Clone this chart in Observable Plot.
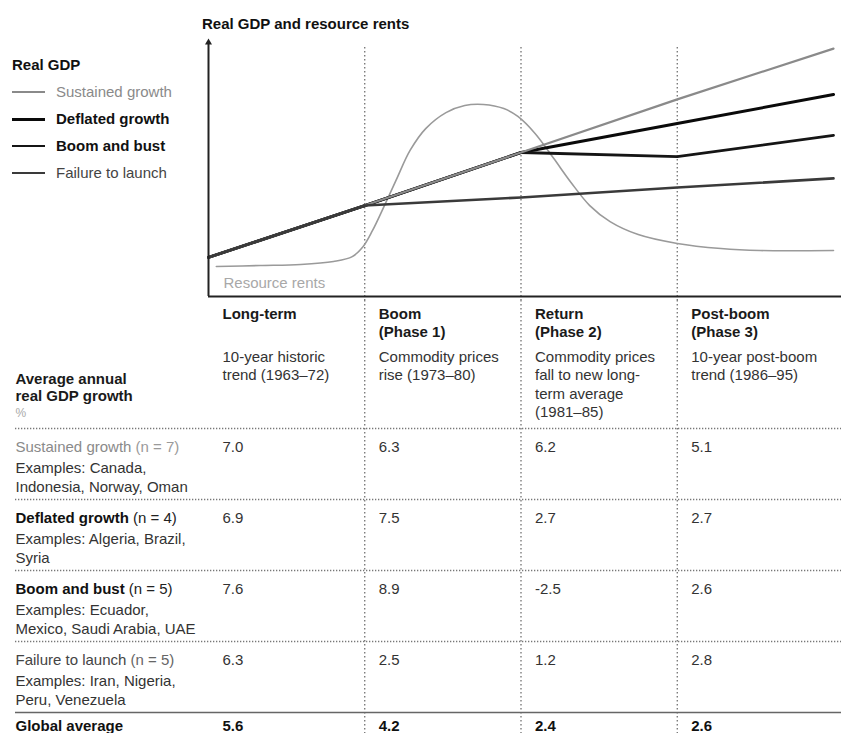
<!DOCTYPE html>
<html>
<head>
<meta charset="utf-8">
<script src="https://cdn.jsdelivr.net/npm/d3@7"></script>
<script src="https://cdn.jsdelivr.net/npm/@observablehq/plot@0.6"></script>
<style>
  body { margin: 0; background: #fff; font-family: "Liberation Sans", Arial, sans-serif; }
  #wrap { position: relative; width: 841px; height: 733px; overflow: hidden; background: #fff; }
  #title { position: absolute; left: 202px; top: 15px; font-weight: bold; font-size: 15px; line-height: 18px; color: #111; }
  .lg { position: absolute; left: 12px; font-size: 15px; line-height: 18px; white-space: nowrap; }
  .lg .sw { display: inline-block; width: 33px; vertical-align: middle; margin-right: 11px; position: relative; top: -1px; }
  #top, #table { position: absolute; left: 0; }
  #top { top: 0; }
  #table { top: 300px; }
  svg { overflow: visible; }
</style>
</head>
<body>
<div id="wrap">
  <div id="top"></div>
  <div id="table"></div>
  <div id="title">Real GDP and resource rents</div>
</div>
<script>
// ---------------- data ----------------
const chartTitle = "Real GDP and resource rents";
const legendTitle = "Real GDP";
const phases = ["Long-term", "Boom", "Return", "Post-boom"];
const phaseHeads = ["Long-term", "Boom\n(Phase 1)", "Return\n(Phase 2)", "Post-boom\n(Phase 3)"];
const phaseNotes = [
  "10-year historic\ntrend (1963–72)",
  "Commodity prices\nrise (1973–80)",
  "Commodity prices\nfall to new long-\nterm average\n(1981–85)",
  "10-year post-boom\ntrend (1986–95)"
];
const groups = ["Sustained growth", "Deflated growth", "Boom and bust", "Failure to launch"];
const groupCounts = [7, 4, 5, 5];
const groupExamples = [
  "Examples: Canada,\nIndonesia, Norway, Oman",
  "Examples: Algeria, Brazil,\nSyria",
  "Examples: Ecuador,\nMexico, Saudi Arabia, UAE",
  "Examples: Iran, Nigeria,\nPeru, Venezuela"
];
const sustainedGrowth = [7.0, 6.3, 6.2, 5.1];
const deflatedGrowth  = [6.9, 7.5, 2.7, 2.7];
const boomBustGrowth  = [7.6, 8.9, -2.5, 2.6];
const failureGrowth   = [6.3, 2.5, 1.2, 2.8];
const globalAverage   = [5.6, 4.2, 2.4, 2.6];

// stylised GDP paths at the phase boundaries (index level)
const phaseBoundaries = [0, 1, 2, 3, 4];
const sustainedPath = [15.4, 35.8, 56.7, 77.6, 97.6];
const deflatedPath  = [15.4, 35.8, 56.7, 68.1, 79.5];
const boomBustPath  = [15.4, 35.8, 56.7, 55.1, 63.4];
const failurePath   = [15.4, 35.8, 39.0, 42.9, 46.5];

// stylised resource rents curve
const rentsPhase = [0.05, 0.33, 0.59, 0.80, 0.92, 0.99, 1.05, 1.12, 1.20, 1.29, 1.39, 1.52, 1.64, 1.76, 1.89, 1.98, 2.09, 2.21, 2.32, 2.44, 2.57, 2.75, 3.00, 3.28, 3.53, 4.00];
const rentsLevel = [11.8, 12.2, 12.6, 13.8, 15.7, 19.7, 26.0, 35.0, 45.7, 57.5, 66.1, 72.4, 75.2, 75.6, 74.0, 70.9, 64.2, 54.3, 44.9, 35.8, 29.5, 24.4, 20.9, 18.9, 18.1, 18.1];
const rentsLabel = "Resource rents";

// ---------------- styles ----------------
const FONT = '"Liberation Sans", Arial, sans-serif';
const seriesStyle = {
  "Sustained growth":  {path: sustainedPath, stroke: "#8a8a8a", width: 2.2, text: "#8a8a8a", weight: "normal"},
  "Deflated growth":   {path: deflatedPath,  stroke: "#0a0a0a", width: 3.0, text: "#111",    weight: "bold"},
  "Boom and bust":     {path: boomBustPath,  stroke: "#151515", width: 2.8, text: "#111",    weight: "bold"},
  "Failure to launch": {path: failurePath,   stroke: "#3a3a3a", width: 2.6, text: "#444",    weight: "normal"}
};
const drawOrder = ["Deflated growth", "Boom and bust", "Sustained growth", "Failure to launch"];

const gdp = groups.flatMap(g => seriesStyle[g].path.map((v, i) => ({series: g, x: phaseBoundaries[i], y: v})));
const rents = rentsPhase.map((x, i) => ({x, y: rentsLevel[i]}));

// ---------------- legend (html) ----------------
const wrap = document.getElementById("wrap");
document.getElementById("title").textContent = chartTitle;
{
  const h = document.createElement("div");
  h.className = "lg"; h.style.top = "56px"; h.style.fontWeight = "bold"; h.style.color = "#111";
  h.textContent = legendTitle;
  wrap.appendChild(h);
  const centers = [92, 119, 146, 173];
  groups.forEach((g, i) => {
    const s = seriesStyle[g];
    const d = document.createElement("div");
    d.className = "lg"; d.style.top = (centers[i] - 9) + "px";
    d.style.color = s.text; d.style.fontWeight = s.weight;
    const sw = document.createElement("span");
    sw.className = "sw"; sw.style.borderTop = `${s.width}px solid ${s.stroke}`;
    d.appendChild(sw);
    d.appendChild(document.createTextNode(g));
    wrap.appendChild(d);
  });
}

// ---------------- top chart ----------------
const topPlot = Plot.plot({
  width: 841, height: 300,
  marginLeft: 208, marginRight: 8, marginTop: 42, marginBottom: 4,
  style: {fontFamily: FONT, background: "transparent"},
  x: {domain: [0, 4], axis: null},
  y: {domain: [0, 100], axis: null},
  marks: [
    Plot.ruleX([1, 2, 3], {stroke: "#666", strokeWidth: 1.2, strokeDasharray: "1.5,2.5", insetTop: 5, insetBottom: -4}),
    Plot.line(rents, {x: "x", y: "y", curve: "catmull-rom", stroke: "#9a9a9a", strokeWidth: 1.6}),
    ...drawOrder.map(g => Plot.line(gdp.filter(d => d.series === g), {
      x: "x", y: "y", stroke: seriesStyle[g].stroke, strokeWidth: seriesStyle[g].width, strokeLinejoin: "round"
    })),
    Plot.ruleX([0], {stroke: "#222", strokeWidth: 2}),
    Plot.ruleY([0], {stroke: "#222", strokeWidth: 2, insetRight: -8}),
    Plot.dot([{x: 0, y: 100}], {x: "x", y: "y", symbol: "triangle", r: 2.6, fill: "#222", stroke: "none"}),
    Plot.text([rentsLabel], {text: d => d, frameAnchor: "bottom-left", lineAnchor: "middle", dx: 15, dy: -13, fill: "#a8a8a8", fontSize: 15})
  ]
});
document.getElementById("top").appendChild(topPlot);

// ---------------- table ----------------
const cv = document.createElement("canvas").getContext("2d");
function measure(str, weight) { cv.font = `${weight} 15px "Liberation Sans", Arial, sans-serif`; return cv.measureText(str).width; }

const pitch = 71, headH = 128, tableH = 433;
const headTop = -headH / pitch;
const labelDx = -193;
const growthRows = [sustainedGrowth, deflatedGrowth, boomBustGrowth, failureGrowth];
const cells = growthRows.flatMap((row, r) => row.map((v, c) => ({row: r, col: c, v})));
const globalCells = globalAverage.map((v, c) => ({row: 4, col: c, v}));
const heads = phases.map((p, i) => ({col: i, head: phaseHeads[i], note: phaseNotes[i]}));
const rows = groups.map((g, r) => ({row: r, name: g, n: `(n = ${groupCounts[r]})`, ex: groupExamples[r]}));

const nameMarks = rows.map(d => {
  const s = seriesStyle[d.name];
  const w = measure(d.name, s.weight) + measure(" ", "normal");
  const nColor = d.name === "Sustained growth" ? "#9a9a9a" : d.name === "Failure to launch" ? "#666" : "#222";
  return [
    Plot.text([d], {y: "row", text: "name", frameAnchor: "left", textAnchor: "start", lineAnchor: "top", dx: labelDx, dy: 13, fontSize: 15, fontWeight: s.weight, fill: s.text}),
    Plot.text([d], {y: "row", text: "n", frameAnchor: "left", textAnchor: "start", lineAnchor: "top", dx: labelDx + w, dy: 13, fontSize: 15, fill: nColor})
  ];
}).flat();

const tablePlot = Plot.plot({
  width: 841, height: tableH,
  marginLeft: 208, marginRight: 8, marginTop: 0, marginBottom: 0,
  style: {fontFamily: FONT, background: "transparent"},
  x: {domain: [0, 4], axis: null},
  y: {domain: [headTop, (tableH - headH) / pitch], range: [0, tableH], axis: null},
  marks: [
    Plot.ruleX([1, 2, 3], {stroke: "#666", strokeWidth: 1.2, strokeDasharray: "1.5,2.5"}),
    Plot.ruleY([0, 1, 2, 3], {stroke: "#777", strokeWidth: 1.3, strokeDasharray: "1.3,1.7", insetLeft: labelDx, insetRight: -8}),
    Plot.ruleY([4], {stroke: "#666", strokeWidth: 1.5, insetLeft: labelDx, insetRight: -8}),
    // column heads
    Plot.text(heads, {x: "col", y: () => headTop, text: "head", textAnchor: "start", lineAnchor: "top", lineHeight: 1.2, dx: 14, dy: 6, fontSize: 15, fontWeight: "bold", fill: "#1a1a1a"}),
    Plot.text(heads, {x: "col", y: () => headTop, text: "note", textAnchor: "start", lineAnchor: "top", lineHeight: 1.233, dx: 14, dy: 48, fontSize: 15, fill: "#333"}),
    // stub head
    Plot.text(["Average annual\nreal GDP growth"], {y: () => headTop, text: d => d, frameAnchor: "left", textAnchor: "start", lineAnchor: "top", lineHeight: 1.15, dx: labelDx, dy: 71, fontSize: 15, fontWeight: "bold", fill: "#1a1a1a"}),
    Plot.text(["%"], {y: () => headTop, text: d => d, frameAnchor: "left", textAnchor: "start", lineAnchor: "top", dx: labelDx, dy: 108, fontSize: 12, fill: "#aaa"}),
    // row labels
    ...nameMarks,
    Plot.text(rows, {y: "row", text: "ex", frameAnchor: "left", textAnchor: "start", lineAnchor: "top", lineHeight: 1.233, dx: labelDx, dy: 31.5, fontSize: 15, fill: "#333"}),
    Plot.text(["Global average"], {y: () => 4, text: d => d, frameAnchor: "left", textAnchor: "start", lineAnchor: "top", dx: labelDx, dy: 8, fontSize: 15, fontWeight: "bold", fill: "#111"}),
    // values
    Plot.text(cells, {x: "col", y: "row", text: d => d.v.toFixed(1), textAnchor: "start", lineAnchor: "top", dx: 14, dy: 13, fontSize: 15, fill: "#333"}),
    Plot.text(globalCells, {x: "col", y: "row", text: d => d.v.toFixed(1), textAnchor: "start", lineAnchor: "top", dx: 14, dy: 8, fontSize: 15, fontWeight: "bold", fill: "#111"})
  ]
});
document.getElementById("table").appendChild(tablePlot);
</script>
</body>
</html>
